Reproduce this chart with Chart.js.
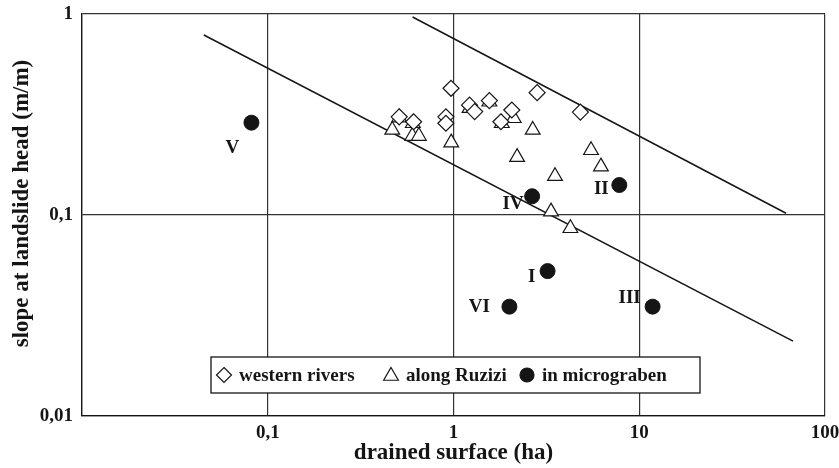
<!DOCTYPE html>
<html>
<head>
<meta charset="utf-8">
<script src="https://cdn.jsdelivr.net/npm/chart.js@4.4.1/dist/chart.umd.min.js"></script>
<style>
  html, body { margin: 0; padding: 0; background: #fff; }
</style>
</head>
<body>
<canvas id="slopeChart" width="839" height="468"></canvas>
<script>
// western rivers (diamonds)
const westernX = [0.97, 2.82, 4.82, 0.51, 0.61, 0.91, 0.91, 1.22, 1.30, 1.56, 2.06, 1.80];
const westernY = [0.427, 0.406, 0.325, 0.308, 0.291, 0.308, 0.286, 0.352, 0.327, 0.371, 0.333, 0.291];

// along Ruzizi (triangles)
const ruziziX = [0.51, 0.468, 0.604, 0.60, 0.651, 0.972, 1.22, 1.56, 1.82, 2.11, 2.67, 2.20, 5.50, 6.22, 3.52, 3.35, 4.26];
const ruziziY = [0.305, 0.265, 0.286, 0.247, 0.247, 0.229, 0.340, 0.366, 0.286, 0.303, 0.265, 0.194, 0.21, 0.174, 0.156, 0.104, 0.0859];

// in micrograben (filled circles)
const microX = [0.0817, 2.65, 7.81, 3.21, 2.0, 11.8];
const microY = [0.288, 0.124, 0.141, 0.0526, 0.035, 0.035];
const microNames = ["V", "IV", "II", "I", "VI", "III"];

// envelope lines
const lowerLineX = [0.0453, 67.3];
const lowerLineY = [0.786, 0.0236];
const upperLineX = [0.602, 61.7];
const upperLineY = [0.966, 0.102];

const xTicks = [0.01, 0.1, 1, 10, 100];
const xTickLabels = ["", "0,1", "1", "10", "100"];
const yTicks = [0.01, 0.1, 1];
const yTickLabels = ["0,01", "0,1", "1"];

const INK = "#151515";
const SERIF = "'Liberation Serif', 'Times New Roman', serif";

// label offsets (px) from each micrograben point
const nameOffsets = [[-19, 25], [-19, 8], [-18, 4], [-16, 6], [-30, 0], [-23, -9]];

const toPoints = (xs, ys) => xs.map((x, i) => ({ x: x, y: ys[i] }));

function drawMarker(ctx, style, x, y, r) {
  ctx.beginPath();
  if (style === "rectRot") {
    ctx.moveTo(x, y - r);
    ctx.lineTo(x + r, y);
    ctx.lineTo(x, y + r);
    ctx.lineTo(x - r, y);
    ctx.closePath();
  } else if (style === "triangle") {
    ctx.moveTo(x, y - r);
    ctx.lineTo(x + r * 0.866, y + r * 0.5);
    ctx.lineTo(x - r * 0.866, y + r * 0.5);
    ctx.closePath();
  } else {
    ctx.arc(x, y, r, 0, Math.PI * 2);
  }
  ctx.fill();
  ctx.stroke();
}

const overlayPlugin = {
  id: "overlay",
  afterDatasetsDraw(chart) {
    const ctx = chart.ctx;
    ctx.save();

    // roman numerals next to micrograben points
    ctx.font = "bold 19px " + SERIF;
    ctx.fillStyle = INK;
    ctx.textAlign = "center";
    ctx.textBaseline = "middle";
    chart.getDatasetMeta(2).data.forEach((pt, i) => {
      ctx.fillText(microNames[i], pt.x + nameOffsets[i][0], pt.y + nameOffsets[i][1]);
    });

    // legend box
    const bx = 211, by = 357, bw = 489, bh = 36;
    ctx.fillStyle = "#fff";
    ctx.fillRect(bx, by, bw, bh);
    ctx.strokeStyle = INK;
    ctx.lineWidth = 1.3;
    ctx.strokeRect(bx, by, bw, bh);

    const items = [
      { style: "rectRot", fill: "#fff", r: 7.5, mx: 224, tx: 239 },
      { style: "triangle", fill: "#fff", r: 8.5, mx: 391, tx: 406 },
      { style: "circle", fill: INK, r: 7, mx: 527, tx: 542 },
    ];
    const cy = by + bh / 2;
    items.forEach((it, i) => {
      ctx.fillStyle = it.fill;
      ctx.strokeStyle = INK;
      ctx.lineWidth = 1.2;
      drawMarker(ctx, it.style, it.mx, it.style === "triangle" ? cy + 1 : cy, it.r);
      ctx.fillStyle = INK;
      ctx.textAlign = "left";
      ctx.font = "bold 19px " + SERIF;
      ctx.fillText(chart.data.datasets[i].label, it.tx, cy + 1);
    });

    ctx.restore();
  },
};

const tickFont = { family: SERIF, size: 19, weight: "bold" };
const titleFont = { family: SERIF, size: 23, weight: "bold" };

new Chart(document.getElementById("slopeChart"), {
  type: "scatter",
  data: {
    datasets: [
      {
        label: "western rivers",
        data: toPoints(westernX, westernY),
        pointStyle: "rectRot",
        pointRadius: 8,
        backgroundColor: "#fff",
        borderColor: INK,
        borderWidth: 1.2,
      },
      {
        label: "along Ruzizi",
        data: toPoints(ruziziX, ruziziY),
        pointStyle: "triangle",
        pointRadius: 8.5,
        backgroundColor: "#fff",
        borderColor: INK,
        borderWidth: 1.2,
      },
      {
        label: "in micrograben",
        data: toPoints(microX, microY),
        pointStyle: "circle",
        pointRadius: 7.5,
        backgroundColor: INK,
        borderColor: INK,
        borderWidth: 1,
      },
      {
        label: "lower",
        data: toPoints(lowerLineX, lowerLineY),
        showLine: true,
        pointRadius: 0,
        borderColor: INK,
        borderWidth: 1.5,
      },
      {
        label: "upper",
        data: toPoints(upperLineX, upperLineY),
        showLine: true,
        pointRadius: 0,
        borderColor: INK,
        borderWidth: 1.5,
      },
    ],
  },
  options: {
    responsive: false,
    animation: false,
    devicePixelRatio: 1,
    layout: { padding: { top: 14, right: 14, left: 0, bottom: 0 } },
    plugins: {
      legend: { display: false },
      tooltip: { enabled: false },
    },
    scales: {
      x: {
        type: "logarithmic",
        min: 0.01,
        max: 100,
        afterBuildTicks: (scale) => {
          scale.ticks = xTicks.map((v) => ({ value: v }));
        },
        afterFit: (scale) => {
          scale.height = 52;
          scale.paddingLeft = 0;
          scale.paddingRight = 0;
        },
        grid: { color: "#333", lineWidth: 1.2, drawTicks: false },
        border: { color: INK, width: 1.3 },
        ticks: {
          autoSkip: false,
          maxRotation: 0,
          padding: 6,
          color: INK,
          font: tickFont,
          callback: (value, index) => xTickLabels[index],
        },
        title: {
          display: true,
          text: "drained surface (ha)",
          color: INK,
          font: titleFont,
          padding: { top: 0, bottom: 1 },
        },
      },
      y: {
        type: "logarithmic",
        min: 0.01,
        max: 1,
        afterBuildTicks: (scale) => {
          scale.ticks = yTicks.map((v) => ({ value: v }));
        },
        afterFit: (scale) => {
          scale.width = 82;
          scale.paddingTop = 0;
          scale.paddingBottom = 0;
        },
        grid: { color: "#333", lineWidth: 1.2, drawTicks: false },
        border: { color: INK, width: 1.3 },
        ticks: {
          autoSkip: false,
          padding: 9,
          color: INK,
          font: tickFont,
          callback: (value, index) => yTickLabels[index],
        },
        title: {
          display: true,
          text: "    slope at landslide head (m/m)",
          color: INK,
          font: titleFont,
          padding: { top: 8, bottom: 0 },
        },
      },
    },
  },
  plugins: [overlayPlugin],
});
</script>
</body>
</html>
